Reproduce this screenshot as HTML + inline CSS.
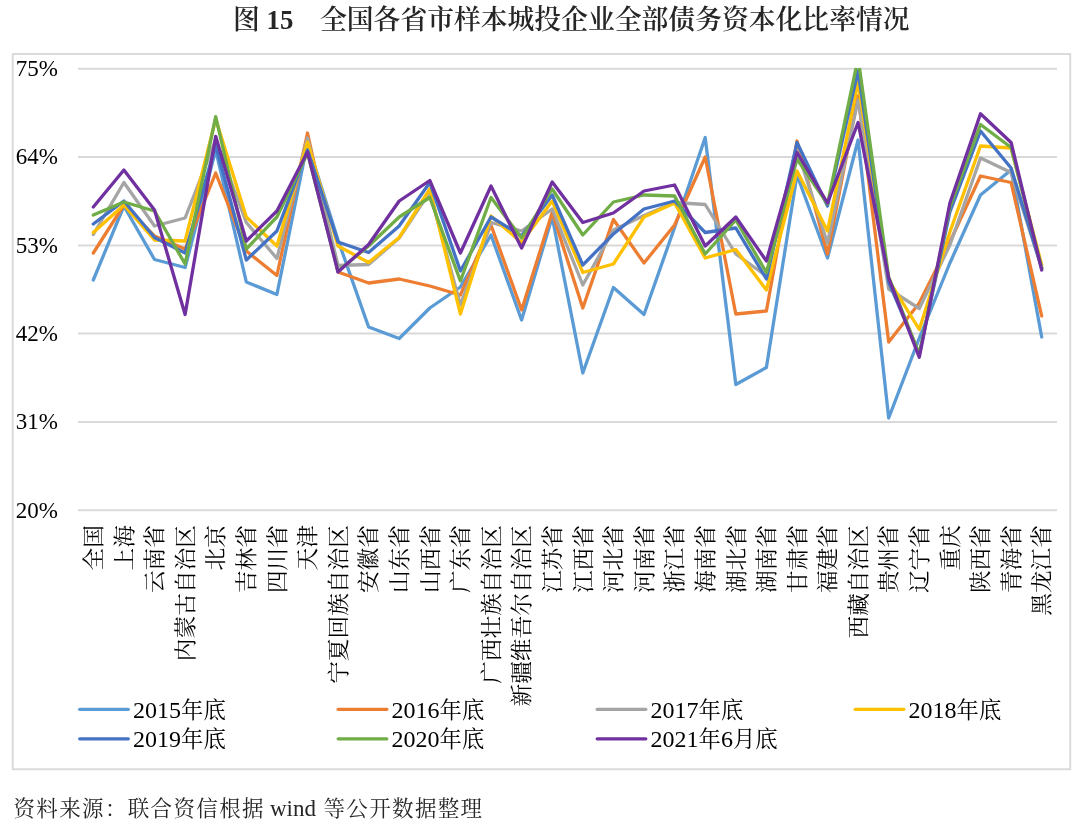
<!DOCTYPE html>
<html lang="zh-CN">
<head>
<meta charset="utf-8">
<title>图 15 全国各省市样本城投企业全部债务资本化比率情况</title>
<style>
html,body{margin:0;padding:0;background:#fff;}
body{width:1080px;height:825px;overflow:hidden;position:relative;}
svg{position:absolute;left:0;top:0;display:block;}
.ttl{font-family:"Liberation Serif","Noto Serif CJK SC",serif;font-weight:600;font-size:26.8px;fill:#262626;}
.ax{font-family:"Liberation Serif","Noto Serif CJK SC",serif;font-size:23px;fill:#000;}
.cat{font-family:"Liberation Serif","Noto Serif CJK SC",serif;font-size:22.7px;fill:#000;}
.lg{font-family:"Liberation Serif","Noto Serif CJK SC",serif;font-size:24px;fill:#000;}
.lg tspan.c{font-size:22.4px;}
.src{font-family:"Liberation Serif","Noto Serif CJK SC",serif;font-size:23px;fill:#262626;}
.src .k{font-size:21.5px;letter-spacing:1.35px;}
.ser{fill:none;stroke-linejoin:round;stroke-linecap:round;}
</style>
</head>
<body>
<svg width="1080" height="825" viewBox="0 0 1080 825">
<rect x="0" y="0" width="1080" height="825" fill="#ffffff"/>
<text class="ttl" x="233" y="29" xml:space="preserve">图 15</text>
<text class="ttl" x="320" y="29">全国各省市样本城投企业全部债务资本化比率情况</text>
<rect x="12.75" y="54" width="1057.5" height="715.25" fill="#ffffff" stroke="#D9D9D9" stroke-width="1.9"/>
<clipPath id="plot"><rect x="78" y="68" width="979" height="443"/></clipPath>

<g stroke="#D9D9D9" stroke-width="2">
<line x1="78" y1="68.7" x2="1057" y2="68.7"/>
<line x1="78" y1="157" x2="1057" y2="157"/>
<line x1="78" y1="245.4" x2="1057" y2="245.4"/>
<line x1="78" y1="333.6" x2="1057" y2="333.6"/>
<line x1="78" y1="422" x2="1057" y2="422"/>
<line x1="78" y1="510.3" x2="1057" y2="510.3"/>
</g>
<g class="ax" text-anchor="start">
<text x="15.8" y="76.1">75%</text>
<text x="15.8" y="164.4">64%</text>
<text x="15.8" y="252.8">53%</text>
<text x="15.8" y="341.0">42%</text>
<text x="15.8" y="429.4">31%</text>
<text x="15.8" y="517.7">20%</text>
</g>
<g clip-path="url(#plot)">
<polyline class="ser" stroke="#5B9BD5" stroke-width="3.3" points="93.3,280 123.9,206 154.5,259.5 185.1,267.5 215.7,150 246.3,282 276.9,294.5 307.5,143 338.0,240 368.6,327 399.2,338.5 429.8,308 460.4,287 491.0,235 521.6,320 552.2,217 582.8,373 613.4,287.5 644.0,314.5 674.6,227.5 705.2,137.5 735.8,384.5 766.4,367.5 797.0,175 827.5,258 858.1,140 888.7,418 919.3,338 949.9,263 980.5,195 1011.1,170 1041.7,337"/>
<polyline class="ser" stroke="#ED7D31" stroke-width="3.3" points="93.3,253 123.9,205 154.5,236 185.1,249 215.7,173 246.3,251 276.9,275.5 307.5,133 338.0,272 368.6,283 399.2,279 429.8,286 460.4,295 491.0,225 521.6,310 552.2,212.5 582.8,308 613.4,219.5 644.0,263 674.6,225 705.2,157 735.8,314 766.4,311 797.0,141 827.5,254 858.1,96 888.7,342 919.3,303 949.9,242 980.5,176 1011.1,182.5 1041.7,316"/>
<polyline class="ser" stroke="#A5A5A5" stroke-width="3.3" points="93.3,234.5 123.9,182.5 154.5,226 185.1,218 215.7,140 246.3,222.5 276.9,258.5 307.5,138 338.0,265.5 368.6,264.5 399.2,238 429.8,192 460.4,305 491.0,222.5 521.6,231 552.2,209 582.8,285 613.4,230 644.0,215.5 674.6,202.5 705.2,204.5 735.8,254 766.4,276 797.0,150 827.5,243 858.1,100 888.7,289 919.3,308.5 949.9,245 980.5,158 1011.1,172.5 1041.7,268"/>
<polyline class="ser" stroke="#FFC000" stroke-width="3.3" points="93.3,232.5 123.9,205 154.5,240 185.1,241 215.7,119 246.3,217 276.9,246 307.5,142 338.0,246 368.6,262.5 399.2,237.5 429.8,189 460.4,314 491.0,216 521.6,242.5 552.2,201 582.8,272.5 613.4,264 644.0,217 674.6,203 705.2,258 735.8,249.5 766.4,290 797.0,171 827.5,231 858.1,82.5 888.7,280 919.3,329.5 949.9,232 980.5,146 1011.1,148 1041.7,265"/>
<polyline class="ser" stroke="#4472C4" stroke-width="3.3" points="93.3,224 123.9,201 154.5,237.5 185.1,253 215.7,145 246.3,260 276.9,231 307.5,150 338.0,242 368.6,252.5 399.2,226 429.8,182.5 460.4,271 491.0,217 521.6,236 552.2,195 582.8,265 613.4,234 644.0,209 674.6,201 705.2,232.5 735.8,228 766.4,279 797.0,142.5 827.5,206 858.1,71 888.7,282 919.3,354 949.9,212 980.5,131 1011.1,168 1041.7,268"/>
<polyline class="ser" stroke="#70AD47" stroke-width="3.3" points="93.3,215 123.9,202 154.5,211 185.1,264 215.7,116.7 246.3,249 276.9,217 307.5,153 338.0,271 368.6,246 399.2,217 429.8,197.5 460.4,281 491.0,197.5 521.6,238 552.2,189 582.8,235 613.4,202 644.0,195 674.6,196 705.2,254 735.8,220 766.4,272.5 797.0,159 827.5,204 858.1,58 888.7,277 919.3,354 949.9,207 980.5,124.5 1011.1,147.5 1041.7,268"/>
<polyline class="ser" stroke="#7030A0" stroke-width="3.3" points="93.3,207 123.9,170 154.5,210 185.1,314.5 215.7,136.3 246.3,241 276.9,211 307.5,152 338.0,272 368.6,244.5 399.2,201 429.8,180.5 460.4,253 491.0,186 521.6,248 552.2,182 582.8,222.5 613.4,213 644.0,191 674.6,185 705.2,246 735.8,217 766.4,261 797.0,152.5 827.5,203 858.1,122.5 888.7,278 919.3,357.3 949.9,203 980.5,113.8 1011.1,142.5 1041.7,270"/>
</g>
<g class="cat" text-anchor="end">
<text transform="translate(101.0,525) rotate(-90) scale(1,0.955)">全国</text>
<text transform="translate(131.6,525) rotate(-90) scale(1,0.955)">上海</text>
<text transform="translate(162.2,525) rotate(-90) scale(1,0.955)">云南省</text>
<text transform="translate(192.8,525) rotate(-90) scale(1,0.955)">内蒙古自治区</text>
<text transform="translate(223.4,525) rotate(-90) scale(1,0.955)">北京</text>
<text transform="translate(254.0,525) rotate(-90) scale(1,0.955)">吉林省</text>
<text transform="translate(284.6,525) rotate(-90) scale(1,0.955)">四川省</text>
<text transform="translate(315.2,525) rotate(-90) scale(1,0.955)">天津</text>
<text transform="translate(345.7,525) rotate(-90) scale(1,0.955)">宁夏回族自治区</text>
<text transform="translate(376.3,525) rotate(-90) scale(1,0.955)">安徽省</text>
<text transform="translate(406.9,525) rotate(-90) scale(1,0.955)">山东省</text>
<text transform="translate(437.5,525) rotate(-90) scale(1,0.955)">山西省</text>
<text transform="translate(468.1,525) rotate(-90) scale(1,0.955)">广东省</text>
<text transform="translate(498.7,525) rotate(-90) scale(1,0.955)">广西壮族自治区</text>
<text transform="translate(529.3,525) rotate(-90) scale(1,0.955)">新疆维吾尔自治区</text>
<text transform="translate(559.9,525) rotate(-90) scale(1,0.955)">江苏省</text>
<text transform="translate(590.5,525) rotate(-90) scale(1,0.955)">江西省</text>
<text transform="translate(621.1,525) rotate(-90) scale(1,0.955)">河北省</text>
<text transform="translate(651.7,525) rotate(-90) scale(1,0.955)">河南省</text>
<text transform="translate(682.3,525) rotate(-90) scale(1,0.955)">浙江省</text>
<text transform="translate(712.9,525) rotate(-90) scale(1,0.955)">海南省</text>
<text transform="translate(743.5,525) rotate(-90) scale(1,0.955)">湖北省</text>
<text transform="translate(774.1,525) rotate(-90) scale(1,0.955)">湖南省</text>
<text transform="translate(804.7,525) rotate(-90) scale(1,0.955)">甘肃省</text>
<text transform="translate(835.2,525) rotate(-90) scale(1,0.955)">福建省</text>
<text transform="translate(865.8,525) rotate(-90) scale(1,0.955)">西藏自治区</text>
<text transform="translate(896.4,525) rotate(-90) scale(1,0.955)">贵州省</text>
<text transform="translate(927.0,525) rotate(-90) scale(1,0.955)">辽宁省</text>
<text transform="translate(957.6,525) rotate(-90) scale(1,0.955)">重庆</text>
<text transform="translate(988.2,525) rotate(-90) scale(1,0.955)">陕西省</text>
<text transform="translate(1018.8,525) rotate(-90) scale(1,0.955)">青海省</text>
<text transform="translate(1049.4,525) rotate(-90) scale(1,0.955)">黑龙江省</text>
</g>
<g class="lg">
<line x1="79.7" y1="709.3" x2="128.3" y2="709.3" stroke="#5B9BD5" stroke-width="3.3" stroke-linecap="round"/>
<text x="133.0" y="717.5">2015<tspan class="c">年底</tspan></text>
<line x1="338.2" y1="709.3" x2="386.8" y2="709.3" stroke="#ED7D31" stroke-width="3.3" stroke-linecap="round"/>
<text x="391.5" y="717.5">2016<tspan class="c">年底</tspan></text>
<line x1="597.2" y1="709.3" x2="645.8" y2="709.3" stroke="#A5A5A5" stroke-width="3.3" stroke-linecap="round"/>
<text x="650.5" y="717.5">2017<tspan class="c">年底</tspan></text>
<line x1="855.2" y1="709.3" x2="903.8" y2="709.3" stroke="#FFC000" stroke-width="3.3" stroke-linecap="round"/>
<text x="908.5" y="717.5">2018<tspan class="c">年底</tspan></text>
<line x1="79.7" y1="738.8" x2="128.3" y2="738.8" stroke="#4472C4" stroke-width="3.3" stroke-linecap="round"/>
<text x="133.0" y="747.0">2019<tspan class="c">年底</tspan></text>
<line x1="338.2" y1="738.8" x2="386.8" y2="738.8" stroke="#70AD47" stroke-width="3.3" stroke-linecap="round"/>
<text x="391.5" y="747.0">2020<tspan class="c">年底</tspan></text>
<line x1="597.2" y1="738.8" x2="645.8" y2="738.8" stroke="#7030A0" stroke-width="3.3" stroke-linecap="round"/>
<text x="650.5" y="747.0">2021<tspan class="c">年</tspan>6<tspan class="c">月底</tspan></text>
</g>
<text class="src" y="816"><tspan class="k" x="13.5">资料来源：联合资信根据</tspan> <tspan x="270">wind</tspan> <tspan class="k" x="323.5">等公开数据整理</tspan></text>
</svg>
</body>
</html>
